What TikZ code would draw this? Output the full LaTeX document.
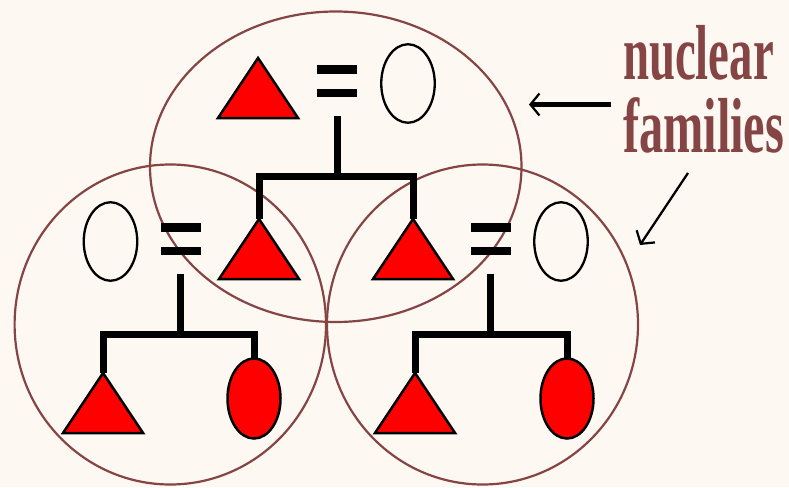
\documentclass[tikz,border=0pt]{standalone}
\usepackage{fontspec}
\setmainfont{Liberation Serif}
\usepackage{graphicx}
\usetikzlibrary{shapes.geometric,arrows.meta}
\definecolor{KinBrown}{HTML}{854545}
\definecolor{KinPaper}{HTML}{FDF8F2}
\definecolor{KinRed}{HTML}{FF0000}

\begin{document}
\begin{tikzpicture}[x=1pt, y=-1pt,
    every node/.style={inner sep=0pt, outer sep=0pt},
    man/.style={isosceles triangle, isosceles triangle stretches,
                shape border rotate=90, minimum width=80pt, minimum height=60pt,
                draw=black, fill=KinRed, line width=2.5pt},
    daughter/.style={ellipse, minimum width=53pt, minimum height=80pt,
                draw=black, fill=KinRed, line width=2.5pt},
    wife/.style={ellipse, minimum width=53.5pt, minimum height=78.5pt,
                draw=black, line width=2.3pt},
    marr/.style={minimum width=40pt, minimum height=32pt},
    kin/.style={line width=7pt},
    fam/.style={draw=KinBrown, line width=2.2pt},
    lbl/.style={text=KinBrown, font=\fontsize{78}{78}\selectfont\bfseries},
    ptr/.style={-{Straight Barb[length=9pt,width=22pt,line width=2.2pt]}},
]

%% Paper
\path[fill=KinPaper, use as bounding box] (0,0) rectangle (789,487);

%% Family circles
\draw[fam] (335.75,166.75) ellipse [x radius=185.75, y radius=155.25];
\draw[fam] (170.3,324.5)   ellipse [x radius=155.7,  y radius=160];
\draw[fam] (482.5,324.5)   ellipse [x radius=155.5,  y radius=160];

%% Top couple
\node[man, anchor=apex] (t0)  at (258,58)    {};
\node[marr]             (eq0) at (337,81)    {};
\node[wife]             (w0)  at (408,83.5)  {};
\coordinate (bar0) at (337,176);

%% Their children
\node[man, anchor=apex] (c1)  at (259,219)   {};
\node[man, anchor=apex] (c2)  at (413,219)   {};

%% Left family
\node[wife]             (w1)  at (110.5,241.5) {};
\node[marr]             (eq1) at (180.5,239)   {};
\coordinate (bar1) at (180.5,334.5);
\node[man, anchor=apex] (s1)  at (103,373)     {};
\node[daughter]         (d1)  at (254,398.5)   {};

%% Right family
\node[marr]             (eq2) at (490.5,239)   {};
\node[wife]             (w2)  at (561,241.5)   {};
\coordinate (bar2) at (490.5,334.5);
\node[man, anchor=apex] (s2)  at (415,373)     {};
\node[daughter]         (d2)  at (567,398.5)   {};

%% Marriage signs
\foreach \e in {eq0,eq1,eq2} {
  \fill (\e.north west) rectangle ([yshift=-8.5pt]\e.north east);
  \fill (\e.south west) rectangle ([yshift=8.5pt]\e.south east);
}

%% Descent lines
\draw[kin] ([yshift=-19pt]eq0.south) -- (bar0);
\draw[kin] (c1.apex) |- (bar0) -| (c2.apex);
\draw[kin] ([yshift=-19pt]eq1.south) -- (bar1);
\draw[kin] (s1.apex) |- (bar1) -| (d1.north);
\draw[kin] ([yshift=-19pt]eq2.south) -- (bar2);
\draw[kin] (s2.apex) |- (bar2) -| (d2.north);

%% Label
\node[lbl, anchor=base west] (nuc) at (623,79)  {\scalebox{0.6}[1]{nuclear}};
\node[lbl, anchor=base west] (fam) at (623,152) {\scalebox{0.62}[1]{families}};

%% Pointers
\coordinate (p1s) at (611,104.5);
\coordinate (p1e) at (529,104.5);
\coordinate (p2s) at (688,173);
\coordinate (p2e) at (640,245);
\draw[ptr, line width=5pt]   (p1s) -- (p1e);
\draw[ptr, line width=2.3pt] (p2s) -- (p2e);

\end{tikzpicture}
\end{document}
